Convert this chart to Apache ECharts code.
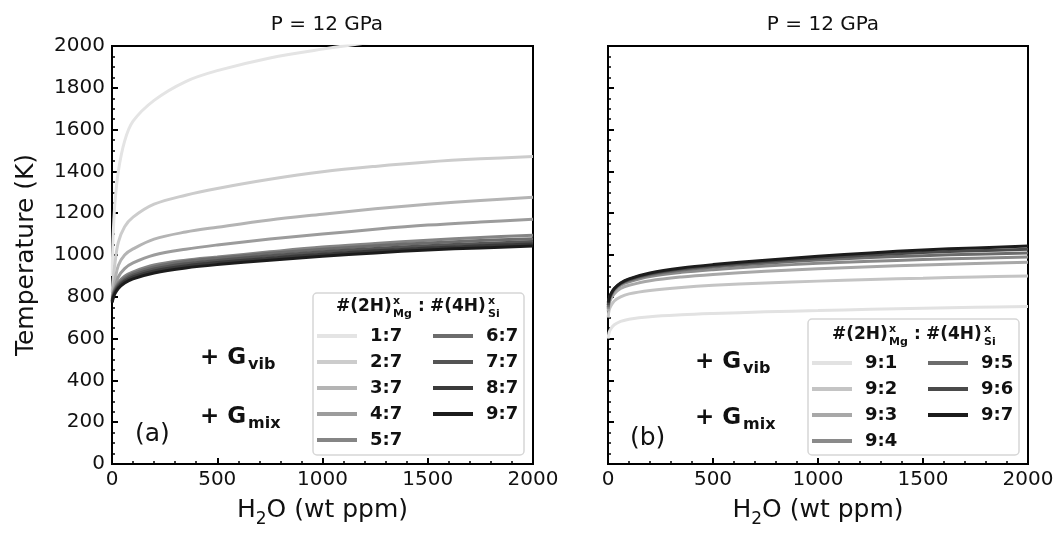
<!DOCTYPE html>
<html>
<head>
<meta charset="utf-8">
<script src="https://cdn.jsdelivr.net/npm/echarts@6/dist/echarts.min.js"></script>
<style>
html,body{margin:0;padding:0;background:#fff;}
#main{width:1060px;height:533px;}
</style>
</head>
<body>
<div id="main"></div>
<script>
// ---- data ----
const xs = [1, 5, 14, 30, 60, 100, 200, 350, 500, 750, 1000, 1250, 1500, 1750, 2000];

const leftNames = ['1:7', '2:7', '3:7', '4:7', '5:7', '6:7', '7:7', '8:7', '9:7'];
const r1_7 = [900, 1080, 1250, 1400, 1545, 1640, 1740, 1830, 1882, 1943, 1985, 2020, 2050, 2075, 2100];
const r2_7 = [820, 880, 960, 1060, 1135, 1181, 1243, 1286, 1318, 1362, 1398, 1424, 1445, 1460, 1471];
const r3_7 = [800, 835, 880, 950, 1000, 1029, 1076, 1110, 1133, 1168, 1195, 1221, 1243, 1261, 1276];
const r4_7 = [790, 815, 845, 895, 935, 962, 1000, 1028, 1048, 1076, 1100, 1123, 1143, 1158, 1171];
const r5_7 = [785, 810, 838, 868, 898, 919, 952, 975, 990, 1015, 1038, 1055, 1071, 1084, 1095];
const r6_7 = [782, 806, 832, 860, 889, 912, 943, 969, 985, 1008, 1027, 1044, 1058, 1069, 1078];
const r7_7 = [779, 801, 826, 853, 881, 903, 933, 958, 974, 996, 1015, 1031, 1044, 1055, 1064];
const r8_7 = [776, 797, 821, 847, 874, 895, 924, 948, 964, 985, 1004, 1020, 1033, 1044, 1053];
const r9_7 = [772, 792, 815, 840, 866, 886, 914, 938, 954, 975, 994, 1010, 1024, 1034, 1043];
const leftValues = [r1_7, r2_7, r3_7, r4_7, r5_7, r6_7, r7_7, r8_7, r9_7];
const leftColors = ['#e4e4e4', '#cccccc', '#b4b4b4', '#9c9c9c', '#858585', '#6c6c6c', '#545454', '#3a3a3a', '#1c1c1c'];

const rightNames = ['9:1', '9:2', '9:3', '9:4', '9:5', '9:6', '9:7'];
const r9_1 = [600, 628, 648, 666, 682, 693, 705, 714, 720, 728, 734, 740, 745, 750, 754];
const r9_2 = [700, 735, 757, 780, 800, 814, 830, 845, 855, 866, 875, 883, 889, 895, 899];
const r9_3 = [730, 765, 790, 815, 840, 855, 877, 895, 907, 922, 934, 944, 952, 959, 965];
const r9_4 = [742, 777, 802, 830, 856, 872, 897, 917, 930, 947, 960, 970, 978, 985, 990];
const r9_5 = [750, 784, 808, 836, 862, 879, 905, 928, 942, 961, 976, 988, 997, 1004, 1010];
const r9_6 = [760, 788, 812, 838, 864, 883, 910, 934, 949, 969, 986, 1000, 1012, 1020, 1027];
const r9_7b = [772, 792, 815, 840, 866, 886, 914, 938, 954, 975, 994, 1010, 1024, 1034, 1043];
const rightValues = [r9_1, r9_2, r9_3, r9_4, r9_5, r9_6, r9_7b];
const rightColors = ['#e2e2e2', '#c4c4c4', '#a8a8a8', '#8a8a8a', '#6c6c6c', '#4a4a4a', '#1c1c1c'];

const xTicks = [0, 500, 1000, 1500, 2000];
const yTicks = [0, 200, 400, 600, 800, 1000, 1200, 1400, 1600, 1800, 2000];

// ---- chart ----
const FONT = 'DejaVu Sans';
const INK = '#111';
const chart = echarts.init(document.getElementById('main'), null, {renderer: 'canvas'});

const grids = [
  {left: 112, top: 46, width: 421, height: 420},
  {left: 608, top: 46, width: 420, height: 420}
];

function xAxisDef(gi) {
  return {
    type: 'value', gridIndex: gi, min: xTicks[0], max: xTicks[xTicks.length - 1], interval: 500,
    name: '{a|H}{s|2}{a|O (wt ppm)}', nameLocation: 'middle', nameGap: 29,
    nameTextStyle: {
      rich: {
        a: {fontFamily: FONT, fontSize: 25, color: INK, lineHeight: 30, verticalAlign: 'bottom'},
        s: {fontFamily: FONT, fontSize: 17, color: INK, lineHeight: 22, verticalAlign: 'bottom', padding: [0, 0, -5, 0]}
      }
    },
    axisLine: {show: true, onZero: false, lineStyle: {color: '#000', width: 2}},
    axisTick: {show: true, inside: true, length: 6, lineStyle: {color: '#000', width: 2}},
    minorTick: {show: true, splitNumber: 5, length: 3, lineStyle: {color: '#000', width: 1.5}},
    axisLabel: {show: true, margin: 6, fontFamily: FONT, fontSize: 20, color: INK, formatter: v => String(v)},
    splitLine: {show: false}
  };
}
function yAxisDef(gi, labels) {
  return {
    type: 'value', gridIndex: gi, min: yTicks[0], max: yTicks[yTicks.length - 1], interval: 200,
    name: labels ? 'Temperature (K)' : '', nameLocation: 'middle', nameGap: 73,
    nameTextStyle: {fontFamily: FONT, fontSize: 25, color: INK},
    axisLine: {show: true, onZero: false, lineStyle: {color: '#000', width: 2}},
    axisTick: {show: true, inside: true, length: 6, lineStyle: {color: '#000', width: 2}},
    minorTick: {show: true, splitNumber: 4, length: 3, lineStyle: {color: '#000', width: 1.5}},
    axisLabel: {show: labels, margin: 7, fontFamily: FONT, fontSize: 20, color: INK, formatter: v => String(v)},
    splitLine: {show: false}
  };
}

const series = [];
leftNames.forEach((n, i) => {
  series.push({
    name: n, type: 'line', xAxisIndex: 0, yAxisIndex: 0,
    data: xs.map((x, j) => [x, leftValues[i][j]]),
    showSymbol: false, smooth: 0.35, clip: true,
    lineStyle: {color: leftColors[i], width: 3}, itemStyle: {color: leftColors[i]},
    z: 3 + i, animation: false
  });
});
rightNames.forEach((n, i) => {
  series.push({
    name: 'R' + n, type: 'line', xAxisIndex: 1, yAxisIndex: 1,
    data: xs.map((x, j) => [x, rightValues[i][j]]),
    showSymbol: false, smooth: 0.35, clip: true,
    lineStyle: {color: rightColors[i], width: 3}, itemStyle: {color: rightColors[i]},
    z: 3 + i, animation: false
  });
});

function legendDef(names, left, top, prefix) {
  return {
    orient: 'vertical', left: left, top: top, z: 20,
    data: names.map(n => prefix + n),
    icon: 'rect', itemWidth: 40, itemHeight: 4, itemGap: 8,
    selectedMode: false,
    formatter: function (name) { return name.replace(/^R/, ''); },
    textStyle: {fontFamily: FONT, fontSize: 18, fontWeight: 'bold', color: INK, padding: [0, 0, 0, 8], lineHeight: 18},
    padding: 0
  };
}

function legendTitle(x0, yc) {
  const bold = (t, x, y, fs) => ({
    type: 'text', z: 30, x: x, y: y,
    style: {text: t, fontFamily: FONT, fontSize: fs, fontWeight: 'bold', fill: INK, verticalAlign: 'middle', align: 'left'}
  });
  return [
    bold('#(2H)', x0, yc, 17),
    bold('x', x0 + 57, yc - 6, 11),
    bold('Mg', x0 + 57, yc + 7, 11),
    bold(':', x0 + 82, yc, 17),
    bold('#(4H)', x0 + 94, yc, 17),
    bold('x', x0 + 152, yc - 6, 11),
    bold('Si', x0 + 152, yc + 7, 11)
  ];
}

function gText(x, y, sub) {
  return [
    {type: 'text', z: 30, x: x, y: y, style: {text: '+ G', fontFamily: FONT, fontSize: 23, fontWeight: 'bold', fill: INK, verticalAlign: 'middle'}},
    {type: 'text', z: 30, x: x + 48, y: y + 7, style: {text: sub, fontFamily: FONT, fontSize: 16, fontWeight: 'bold', fill: INK, verticalAlign: 'middle'}}
  ];
}

const graphics = [
  {type: 'rect', z: 15, shape: {x: 313, y: 293, width: 211, height: 162, r: 4}, style: {fill: 'rgba(255,255,255,0.85)', stroke: '#d6d6d6', lineWidth: 1.5}},
  {type: 'rect', z: 15, shape: {x: 808, y: 319, width: 211, height: 136, r: 4}, style: {fill: 'rgba(255,255,255,0.85)', stroke: '#d6d6d6', lineWidth: 1.5}},
  ...legendTitle(336, 307),
  ...legendTitle(832, 335),
  ...gText(200, 358, 'vib'),
  ...gText(200, 417, 'mix'),
  ...gText(695, 362, 'vib'),
  ...gText(695, 418, 'mix'),
  {type: 'text', z: 30, x: 135, y: 434, style: {text: '(a)', fontFamily: FONT, fontSize: 25, fill: INK, verticalAlign: 'middle'}},
  {type: 'text', z: 30, x: 630, y: 438, style: {text: '(b)', fontFamily: FONT, fontSize: 25, fill: INK, verticalAlign: 'middle'}}
];

const option = {
  backgroundColor: '#fff',
  animation: false,
  title: [
    {text: 'P = 12 GPa', left: 322, top: 10, textAlign: 'center', textStyle: {fontFamily: FONT, fontSize: 20, fontWeight: 'normal', color: INK}},
    {text: 'P = 12 GPa', left: 818, top: 10, textAlign: 'center', textStyle: {fontFamily: FONT, fontSize: 20, fontWeight: 'normal', color: INK}}
  ],
  grid: grids.map(g => Object.assign({show: true, borderColor: '#000', borderWidth: 2, backgroundColor: 'transparent'}, g)),
  xAxis: [xAxisDef(0), xAxisDef(1)],
  yAxis: [yAxisDef(0, true), yAxisDef(1, false)],
  legend: [
    legendDef(leftNames.slice(0, 5), 317, 327, ''),
    legendDef(leftNames.slice(5), 433, 327, ''),
    legendDef(rightNames.slice(0, 4), 812, 354, 'R'),
    legendDef(rightNames.slice(4), 928, 354, 'R')
  ],
  graphic: graphics,
  series: series
};
chart.setOption(option);
</script>
</body>
</html>
